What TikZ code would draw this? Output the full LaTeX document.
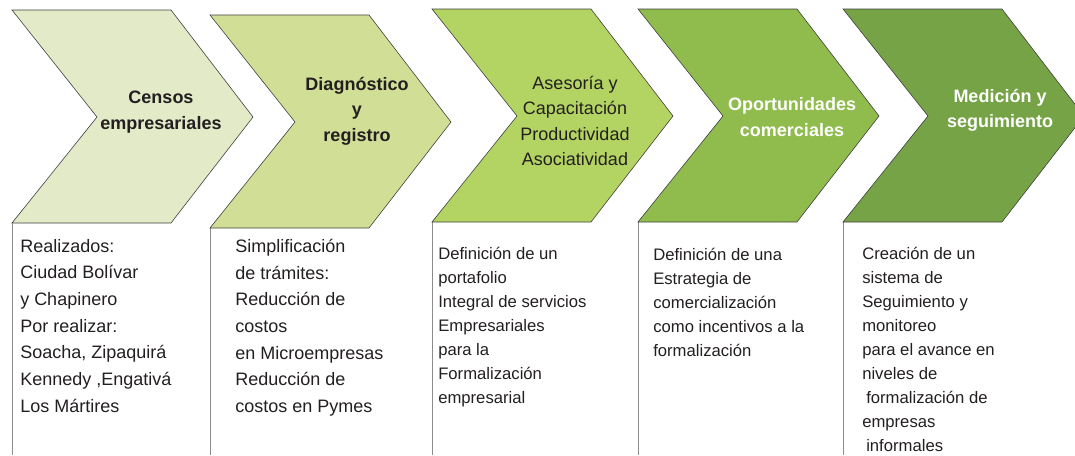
\documentclass[tikz,border=0pt]{standalone}
\usepackage{fontspec}
\setmainfont{Liberation Sans}
\definecolor{verdeA}{HTML}{E3EAC7}
\definecolor{verdeB}{HTML}{D1DF96}
\definecolor{verdeC}{HTML}{B3D463}
\definecolor{verdeD}{HTML}{8FBC4C}
\definecolor{verdeE}{HTML}{75A345}
\definecolor{tinta}{HTML}{231F20}
\tikzset{
  flecha/.style={draw=black!75, line width=0.45pt},
  borde/.style={draw=black!45, line width=0.7pt},
  titulo/.style={align=center, inner sep=0pt, text=tinta,
    font=\fontsize{13.5}{19}\selectfont},
  titulonegro/.style={titulo, font=\fontsize{13.5}{19}\selectfont\bfseries},
  tituloblanco/.style={titulonegro, text=white},
  texto/.style={align=left, anchor=north west, inner sep=0pt, text=tinta,
    font=\fontsize{13.5}{20}\selectfont},
  textochico/.style={texto, font=\fontsize{12.5}{18}\selectfont}
}
\begin{document}
\begin{tikzpicture}[x=0.75pt,y=-0.75pt]
    \useasboundingbox (0,0) rectangle (1075,455);
    % Flechas
    \foreach \x/\y/\c/\n in {12/10/verdeA/1,210/15/verdeB/2,432/9/verdeC/3,638/9/verdeD/4,843/9/verdeE/5} {
            \coordinate (b\n) at (\x,\y+213);
            \coordinate (p\n) at (\x,455);
            \draw[borde] (b\n) -- (p\n);
            \draw[flecha,fill=\c] (\x,\y) -- ++(159,0) -- ++(82,107) -- ++(-82,106)
                -- (b\n) -- ++(85,-106) -- cycle;
        }

    % Titulos
    \node[titulonegro] (t1) at (161,112) {Censos\\empresariales};
    \node[titulonegro] (t2) at (357,111) {Diagnóstico\\y\\registro};
    \node[titulo] (t3) at (575,121) {Asesoría y\\Capacitación\\Productividad\\Asociatividad};
    \node[tituloblanco] (t4) at (792,117) {Oportunidades\\comerciales};
    \node[tituloblanco] (t5) at (1000,110) {Medición y\\seguimiento};

    % Textos
    \node[texto] (c1) at (20,239) {Realizados:\\Ciudad Bolívar\\y Chapinero\\Por realizar:\\Soacha, Zipaquirá\\Kennedy ,Engativá\\Los Mártires};
    \node[texto] (c2) at (235,239) {Simplificación\\de trámites:\\Reducción de\\costos\\en Microempresas\\Reducción de\\costos en Pymes};
    \node[textochico] (c3) at (438,247) {Definición de un\\portafolio\\Integral de servicios\\Empresariales\\para la\\Formalización\\empresarial};
    \node[textochico] (c4) at (653,248) {Definición de una\\Estrategia de\\comercialización\\como incentivos a la\\formalización};
    \node[textochico] (c5) at (862,247) {Creación de un\\sistema de\\Seguimiento y\\monitoreo\\para el avance en\\niveles de\\\hspace{3pt}formalización de\\empresas\\\hspace{3pt}informales};
\end{tikzpicture}
\end{document}
